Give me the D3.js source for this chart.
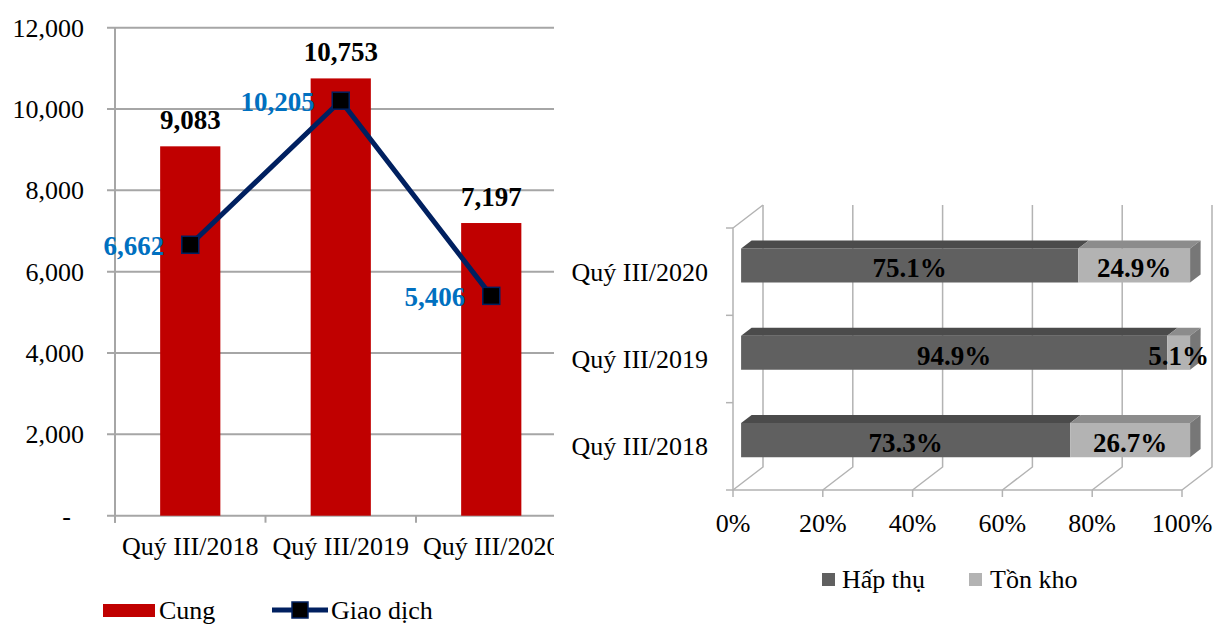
<!DOCTYPE html>
<meta charset="utf-8">
<style>
body { margin: 0; background: #fff; font-family: "Liberation Serif", "Times New Roman", serif; }
svg text { font-family: "Liberation Serif", "Times New Roman", serif; }
.grid line { stroke: #a6a6a6; stroke-width: 2; }
.domain { display: none; }
</style>
<body>
<script src="https://cdn.jsdelivr.net/npm/d3@7"></script>
<script>

// left chart data
var quarters = ["Quý III/2018", "Quý III/2019", "Quý III/2020"];
var cung = [9083, 10753, 7197];
var giaoDich = [6662, 10205, 5406];
var yTicks = [0, 2000, 4000, 6000, 8000, 10000, 12000];

// right chart data (top to bottom)
var quartersR = ["Quý III/2020", "Quý III/2019", "Quý III/2018"];
var hapThu = [75.1, 94.9, 73.3];
var tonKho = [24.9, 5.1, 26.7];
var pctTicks = [0, 20, 40, 60, 80, 100];

var FS = "26px", FSB = "27px";

var svg = d3.select("body").append("svg")
    .attr("width", 1213)
    .attr("height", 624);

// ---------- left chart ----------
var left = svg.append("g").attr("clip-path", "url(#clipL)");
svg.append("clipPath").attr("id", "clipL")
  .append("rect").attr("x", 0).attr("y", 0).attr("width", 554).attr("height", 590);

var x = d3.scaleBand()
    .domain(quarters)
    .range([115, 566.5])
    .paddingInner(0.6)
    .paddingOuter(0.3);
var y = d3.scaleLinear()
    .domain([0, 12000])
    .range([515.7, 27.7]);

// gridlines
left.append("g").attr("class", "grid")
  .selectAll("line").data(yTicks).enter().append("line")
    .attr("x1", 107).attr("x2", 566)
    .attr("y1", function(d) { return y(d); })
    .attr("y2", function(d) { return y(d); });

// y axis line
left.append("line")
    .attr("x1", 115).attr("x2", 115)
    .attr("y1", y(12000)).attr("y2", y(0) + 7)
    .attr("stroke", "#a6a6a6").attr("stroke-width", 2);

// x axis boundary ticks
var bounds = d3.range(quarters.length + 1).map(function(i) { return x.range()[0] + i * x.step(); });
left.append("g").selectAll("line").data(bounds).enter().append("line")
    .attr("x1", function(d) { return d; }).attr("x2", function(d) { return d; })
    .attr("y1", y(0)).attr("y2", y(0) + 7)
    .attr("stroke", "#a6a6a6").attr("stroke-width", 2);

var yAxis = left.append("g")
    .attr("transform", "translate(115,0)")
    .call(d3.axisLeft(y).tickValues(yTicks).tickSize(0).tickPadding(31)
      .tickFormat(function(d) { return d === 0 ? "-" : d3.format(",")(d); }));
yAxis.selectAll("text").style("font-size", FS).attr("fill", "#000")
    .attr("dx", function(d) { return d === 0 ? -13 : 0; });

var xAxis = left.append("g")
    .attr("transform", "translate(0," + y(0) + ")")
    .call(d3.axisBottom(x).tickSize(0).tickPadding(21));
xAxis.selectAll("text").style("font-size", FS).attr("fill", "#000");

// bars
left.selectAll(".bar").data(cung).enter().append("rect")
    .attr("class", "bar")
    .attr("x", function(d, i) { return x(quarters[i]); })
    .attr("width", x.bandwidth())
    .attr("y", function(d) { return y(d); })
    .attr("height", function(d) { return y(0) - y(d); })
    .attr("fill", "#C00000");

left.selectAll(".barlab").data(cung).enter().append("text")
    .attr("x", function(d, i) { return x(quarters[i]) + x.bandwidth() / 2; })
    .attr("y", function(d) { return y(d) - 17; })
    .attr("text-anchor", "middle")
    .style("font-size", FSB).style("font-weight", "bold")
    .text(function(d) { return d3.format(",")(d); });

// line
var cx = function(i) { return x(quarters[i]) + x.bandwidth() / 2; };
var line = d3.line()
    .x(function(d, i) { return cx(i); })
    .y(function(d) { return y(d); });
left.append("path").datum(giaoDich)
    .attr("d", line)
    .attr("fill", "none")
    .attr("stroke", "#002060")
    .attr("stroke-width", 5);
left.selectAll(".mk").data(giaoDich).enter().append("rect")
    .attr("x", function(d, i) { return cx(i) - 8.5; })
    .attr("y", function(d) { return y(d) - 8.5; })
    .attr("width", 17).attr("height", 17)
    .attr("fill", "#000").attr("stroke", "#002060").attr("stroke-width", 1.5);
left.selectAll(".lnlab").data(giaoDich).enter().append("text")
    .attr("x", function(d, i) { return cx(i) - 26; })
    .attr("y", function(d) { return y(d) + 10; })
    .attr("text-anchor", "end")
    .attr("fill", "#0070C0")
    .style("font-size", FSB).style("font-weight", "bold")
    .text(function(d) { return d3.format(",")(d); });

// legend left
var lg = svg.append("g");
lg.append("rect").attr("x", 103).attr("y", 604).attr("width", 52).attr("height", 13).attr("fill", "#C00000");
lg.append("text").attr("x", 159).attr("y", 619).style("font-size", FS).text("Cung");
lg.append("line").attr("x1", 272).attr("x2", 328).attr("y1", 610).attr("y2", 610)
    .attr("stroke", "#002060").attr("stroke-width", 5);
lg.append("rect").attr("x", 292).attr("y", 602).attr("width", 16).attr("height", 16)
    .attr("fill", "#000").attr("stroke", "#002060").attr("stroke-width", 1.5);
lg.append("text").attr("x", 331).attr("y", 619).style("font-size", FS).text("Giao dịch");

// ---------- right chart (3D stacked bars) ----------
var right = svg.append("g");
var xr = d3.scaleLinear().domain([0, 100]).range([733, 1182]);
var yr = d3.scaleBand().domain(quartersR).range([228, 490])
    .paddingInner(0.61).paddingOuter(0.305);
var DX = 30, DY = -23;
function px(v, d) { return xr(v) + DX * d; }
function py(yy, d) { return yy + DY * d; }
var floorY = yr.range()[1];
var wallColor = "#b3b3b3";

// back wall gridlines + floor diagonals
pctTicks.forEach(function(t) {
  right.append("polyline")
      .attr("points", [[px(t, 1), py(yr.range()[0], 1)], [px(t, 1), py(floorY, 1)], [px(t, 0), floorY]].join(" "))
      .attr("fill", "none").attr("stroke", wallColor).attr("stroke-width", 1.5);
  right.append("line")
      .attr("x1", xr(t)).attr("x2", xr(t)).attr("y1", floorY).attr("y2", floorY + 7)
      .attr("stroke", wallColor).attr("stroke-width", 1.5);
});
// left wall
right.append("polyline")
    .attr("points", [[px(0, 1), py(yr.range()[0], 1)], [xr(0), yr.range()[0]], [xr(0), floorY], [xr(100), floorY]].join(" "))
    .attr("fill", "none").attr("stroke", wallColor).attr("stroke-width", 1.5);
var catBounds = d3.range(quartersR.length + 1).map(function(i) { return yr.range()[0] + i * yr.step(); });
catBounds.forEach(function(b) {
  right.append("line").attr("x1", xr(0) - 7).attr("x2", xr(0)).attr("y1", b).attr("y2", b)
      .attr("stroke", wallColor).attr("stroke-width", 1.5);
});

var d0 = 0.27, d1 = 0.62;
var series = [
  { name: "Hấp thụ", values: hapThu, front: "#606060", top: "#4b4b4b", side: "#444" },
  { name: "Tồn kho", values: tonKho, front: "#b3b3b3", top: "#8c8c8c", side: "#777777" }
];
function poly(pts) { return pts.map(function(p) { return p.join(","); }).join(" "); }

quartersR.forEach(function(q, i) {
  var yTop = yr(q), yBot = yr(q) + yr.bandwidth();
  var start = 0;
  series.forEach(function(s, si) {
    var v = s.values[i], end = start + v;
    // front face
    right.append("polygon").attr("fill", s.front)
        .attr("points", poly([[px(start, d0), py(yTop, d0)], [px(end, d0), py(yTop, d0)],
                              [px(end, d0), py(yBot, d0)], [px(start, d0), py(yBot, d0)]]));
    // top face
    right.append("polygon").attr("fill", s.top)
        .attr("points", poly([[px(start, d0), py(yTop, d0)], [px(end, d0), py(yTop, d0)],
                              [px(end, d1), py(yTop, d1)], [px(start, d1), py(yTop, d1)]]));
    if (si === series.length - 1) {
      right.append("polygon").attr("fill", s.side)
          .attr("points", poly([[px(end, d0), py(yTop, d0)], [px(end, d1), py(yTop, d1)],
                                [px(end, d1), py(yBot, d1)], [px(end, d0), py(yBot, d0)]]));
    }
    right.append("text")
        .attr("x", (px(start, d0) + px(end, d0)) / 2)
        .attr("y", py((yTop + yBot) / 2, d0) + 12)
        .attr("text-anchor", "middle")
        .style("font-size", FSB).style("font-weight", "bold")
        .text(v.toFixed(1) + "%");
    start = end;
  });
});

// axes labels right
right.selectAll(".cat").data(quartersR).enter().append("text")
    .attr("x", xr(0) - 25)
    .attr("y", function(d) { return yr(d) + yr.bandwidth() / 2 + 9; })
    .attr("text-anchor", "end")
    .style("font-size", FS)
    .text(function(d) { return d; });
right.selectAll(".pct").data(pctTicks).enter().append("text")
    .attr("x", function(d) { return xr(d); })
    .attr("y", floorY + 42)
    .attr("text-anchor", "middle")
    .style("font-size", FS)
    .text(function(d) { return d + "%"; });

// legend right
var lr = svg.append("g");
lr.append("rect").attr("x", 822).attr("y", 573).attr("width", 13).attr("height", 13).attr("fill", series[0].front);
lr.append("text").attr("x", 842).attr("y", 588).style("font-size", FS).text(series[0].name);
lr.append("rect").attr("x", 969).attr("y", 573).attr("width", 13).attr("height", 13).attr("fill", series[1].front);
lr.append("text").attr("x", 990).attr("y", 588).style("font-size", FS).text(series[1].name);

</script>
</body>
